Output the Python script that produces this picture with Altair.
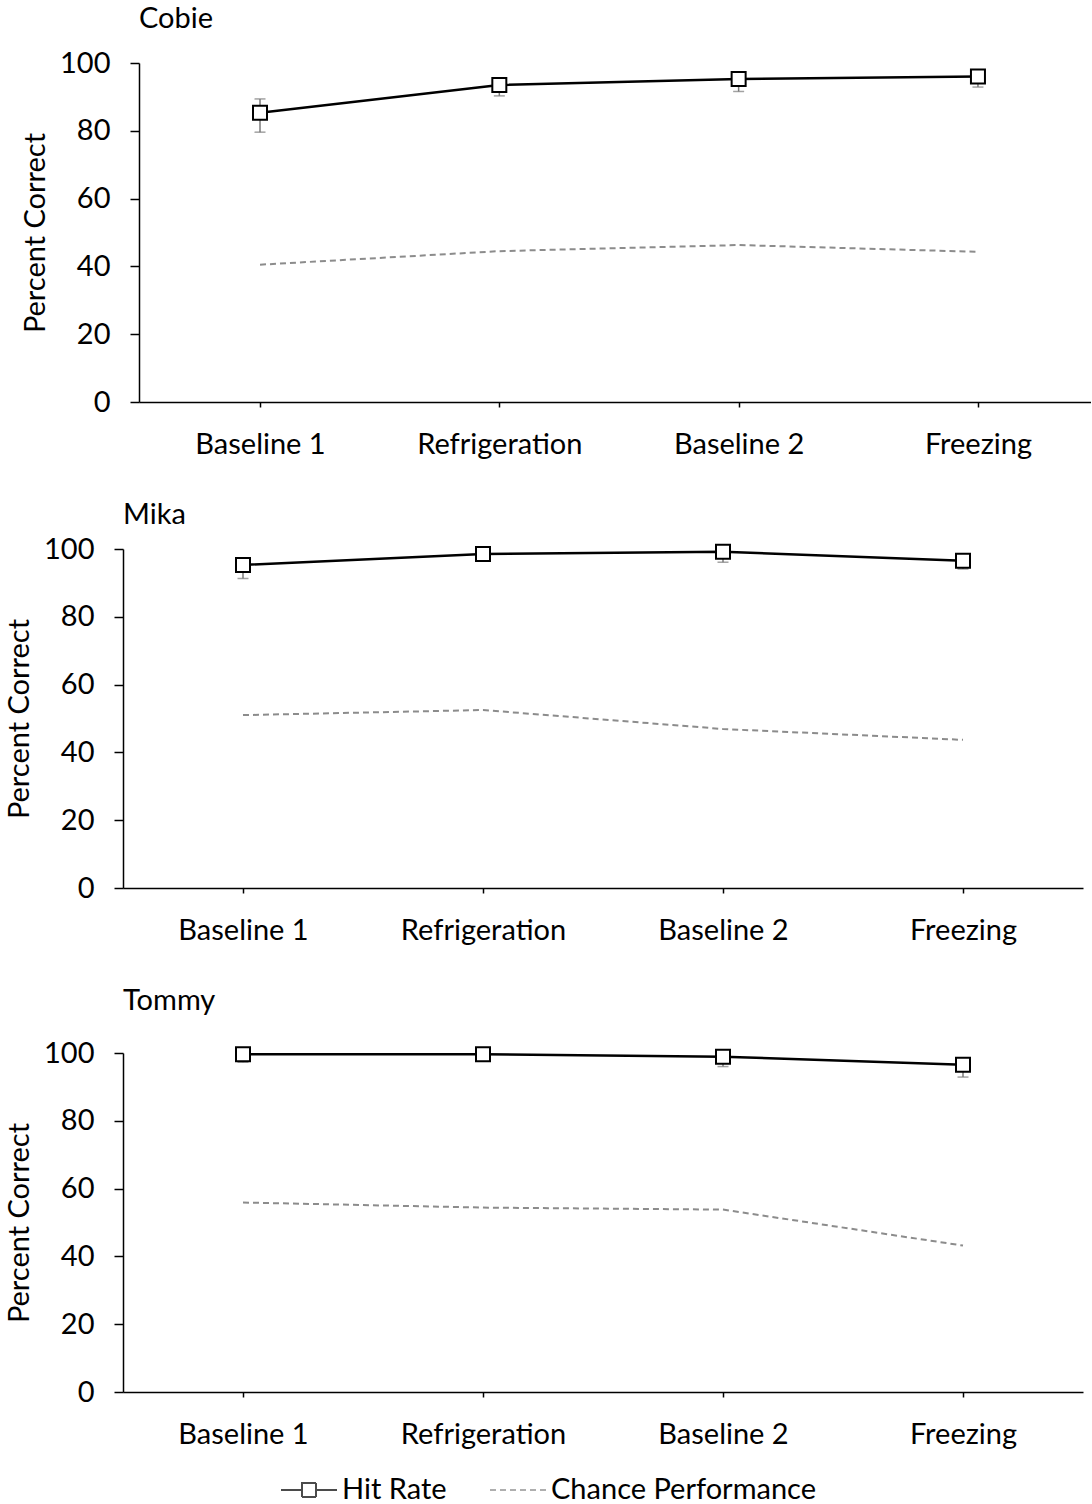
import altair as alt
import pandas as pd

categories = ["Baseline 1", "Refrigeration", "Baseline 2", "Freezing"]
series_names = ["Hit Rate", "Chance Performance"]

subjects = ["Cobie", "Mika", "Tommy"]
hit_rate = {
    "Cobie": [85.3, 93.5, 95.3, 96.0],
    "Mika": [95.3, 98.5, 99.2, 96.5],
    "Tommy": [99.6, 99.6, 98.9, 96.5],
}
err_plus = {
    "Cobie": [4.1, 0.0, 0.0, 0.0],
    "Mika": [0.0, 0.0, 0.0, 0.0],
    "Tommy": [0.0, 0.0, 0.0, 0.0],
}
err_minus = {
    "Cobie": [5.7, 3.2, 3.7, 3.1],
    "Mika": [4.0, 1.5, 3.1, 2.4],
    "Tommy": [2.3, 0.5, 2.9, 3.6],
}
chance = {
    "Cobie": [40.5, 44.5, 46.3, 44.3],
    "Mika": [51.0, 52.5, 46.9, 43.7],
    "Tommy": [55.9, 54.4, 53.8, 43.2],
}
y_ticks = [0, 20, 40, 60, 80, 100]

FONT = "Lato"
FS = 29
ERR_COLOR = "#7a7a7a"

legend_hit_path = "M-2,0H-0.5M0.5,0H2M-0.5,-0.5H0.5V0.5H-0.5Z"
legend_chance_path = "M-2,0H2"


def panel(name, width, pad, align, title_offset, with_legend=False):
    df = pd.DataFrame({
        "cat": categories,
        "hit": hit_rate[name],
        "plus": err_plus[name],
        "minus": err_minus[name],
        "chance": chance[name],
    })
    df["lo"] = df["hit"] - df["minus"]
    df["hi"] = df["hit"] + df["plus"]

    x = alt.X("cat:N", sort=categories,
              scale=alt.Scale(type="point", padding=pad, align=align),
              axis=alt.Axis(title=None, labelAngle=0, tickSize=5,
                            labelPadding=23, domainColor="black",
                            tickColor="black", domainWidth=1.5, tickWidth=1.5,
                            labelFont=FONT, labelFontSize=FS,
                            labelColor="black"))
    yscale = alt.Scale(domain=[0, 100], nice=False, zero=True)
    yaxis = alt.Axis(values=y_ticks, title="Percent Correct", tickSize=9,
                     labelPadding=20, titlePadding=9, grid=False,
                     domainColor="black", tickColor="black",
                     domainWidth=1.5, tickWidth=1.5,
                     labelFont=FONT, labelFontSize=FS, labelColor="black",
                     titleFont=FONT, titleFontSize=FS, titleColor="black",
                     titleFontWeight="normal")

    base = alt.Chart(df)
    chance_line = base.mark_line(color="#8c8c8c", strokeWidth=2,
                                 strokeDash=[6, 4]).encode(
        x=x, y=alt.Y("chance:Q", scale=yscale, axis=yaxis))
    err_rule = base.mark_rule(color=ERR_COLOR, strokeWidth=1.5).encode(
        x=x, y=alt.Y("lo:Q", scale=yscale), y2="hi:Q")
    err_lo = base.mark_tick(color=ERR_COLOR, thickness=1.5, size=11,
                            orient="horizontal").encode(
        x=x, y=alt.Y("lo:Q", scale=yscale))
    err_hi = base.mark_tick(color=ERR_COLOR, thickness=1.5, size=11,
                            orient="horizontal").encode(
        x=x, y=alt.Y("hi:Q", scale=yscale))
    hit_line = base.mark_line(color="black", strokeWidth=2.5).encode(
        x=x, y=alt.Y("hit:Q", scale=yscale))
    hit_pts = base.mark_point(shape="square", size=196, filled=True,
                              fill="white", stroke="black", strokeWidth=2,
                              opacity=1).encode(
        x=x, y=alt.Y("hit:Q", scale=yscale))

    layers = [chance_line, err_rule, err_lo, err_hi, hit_line, hit_pts]

    if with_legend:
        leg_df = pd.DataFrame({"series": series_names, "cat": categories[:2],
                               "v": [0, 0]})
        leg = alt.Legend(title=None, orient="none", legendX=290, legendY=422,
                         direction="horizontal", symbolSize=784,
                         symbolStrokeWidth=2, labelOffset=18,
                         columnPadding=39, labelFontSize=FS, labelFont=FONT,
                         labelColor="black", symbolFillColor="white",
                         labelLimit=400)
        legend_layer = alt.Chart(leg_df).transform_filter("false").mark_point(
            filled=False, strokeWidth=2).encode(
            x=x, y=alt.Y("v:Q", scale=yscale),
            shape=alt.Shape("series:N", scale=alt.Scale(
                domain=series_names,
                range=[legend_hit_path, legend_chance_path]), legend=leg),
            stroke=alt.Stroke("series:N", scale=alt.Scale(
                domain=series_names, range=["black", "#8c8c8c"]), legend=leg),
            strokeDash=alt.StrokeDash("series:N", scale=alt.Scale(
                domain=series_names, range=[[1, 0], [6, 4]]), legend=leg),
        )
        layers.append(legend_layer)

    return alt.layer(*layers).properties(
        width=width, height=339,
        title=alt.TitleParams(name, anchor="start", offset=title_offset,
                              frame="group",
                              baseline="alphabetic", fontSize=FS, font=FONT,
                              fontWeight="normal", color="black"),
    )


def spacer(w):
    return alt.Chart(pd.DataFrame({"a": [0]})).mark_point(
        opacity=0, size=0).encode(
        x=alt.value(0), y=alt.value(0)).properties(width=w, height=339)


p1 = alt.hconcat(spacer(17), panel("Cobie", 952, 0.489, 0.517, -8), spacing=0)
p2 = alt.hconcat(spacer(1), panel("Mika", 960, 0.5, 0.5, -18), spacing=0)
p3 = alt.hconcat(spacer(1), panel("Tommy", 960, 0.5, 0.5, 0, with_legend=True),
                 spacing=0)

chart = alt.concat(p1, p2, p3, columns=1, spacing=42, align="none").resolve_scale(
    shape="independent", stroke="independent", strokeDash="independent"
).resolve_legend(
    shape="independent", stroke="independent", strokeDash="independent"
).properties(
    padding={"left": 4, "top": 5, "right": 0, "bottom": 0}
).configure(font=FONT).configure_view(stroke=None)

chart.save("out.html", embed_options={"renderer": "svg", "actions": False})
